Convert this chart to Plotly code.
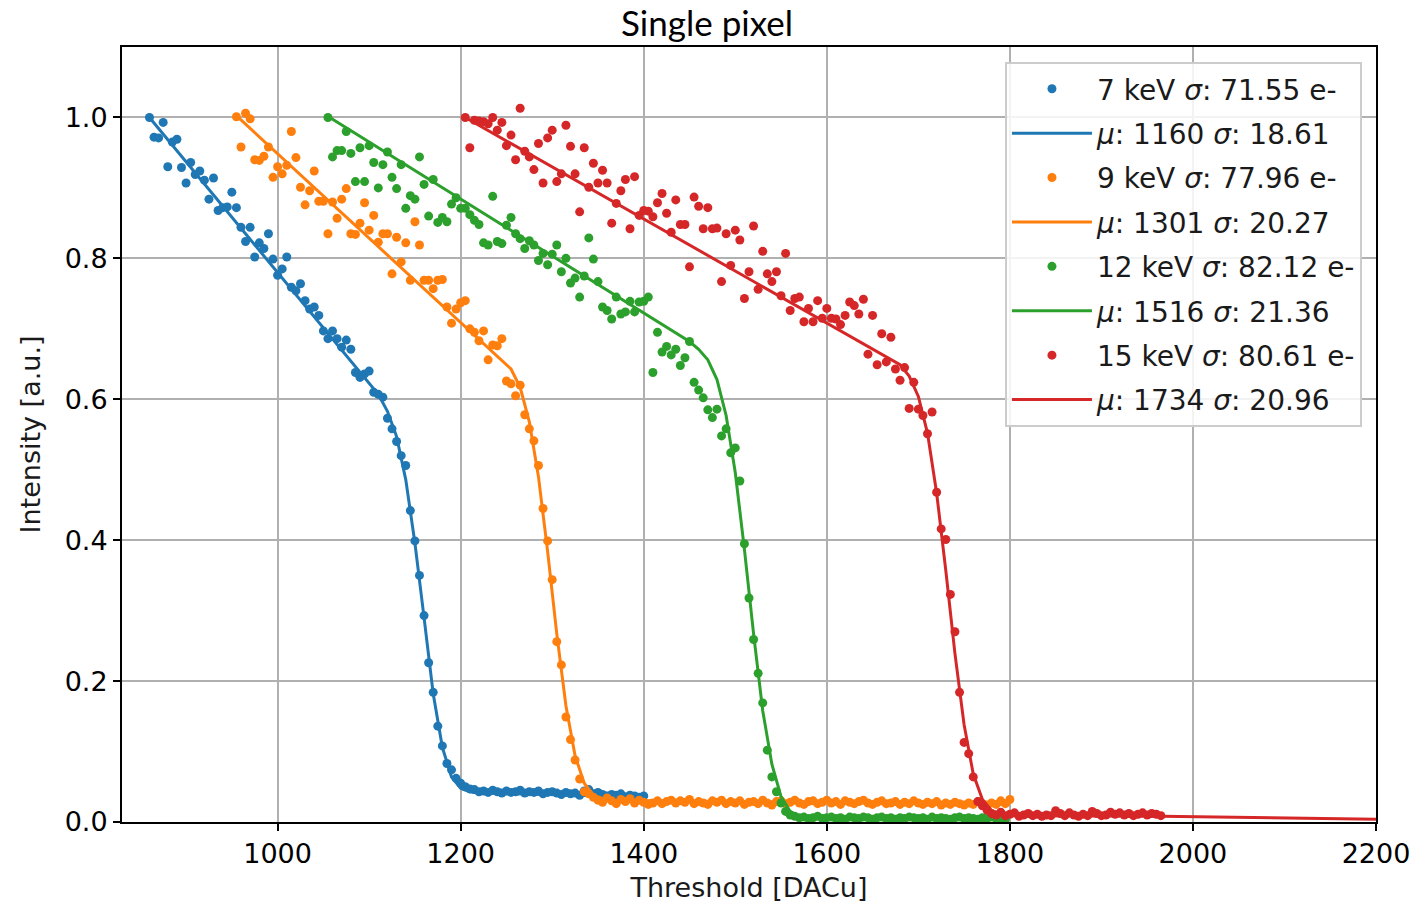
import plotly.graph_objects as go

# ---------------- data ----------------
blue_x = list(range(860, 1405, 5))
blue_y = [1.000, 0.972, 0.971, 0.993, 0.930, 0.965, 0.969, 0.929, 0.907, 0.936,
          0.919, 0.924, 0.911, 0.884, 0.914, 0.868, 0.872, 0.873, 0.894, 0.872,
          0.844, 0.824, 0.844, 0.802, 0.822, 0.814, 0.835, 0.799, 0.776, 0.785,
          0.802, 0.759, 0.754, 0.764, 0.740, 0.728, 0.731, 0.719, 0.697, 0.686,
          0.697, 0.686, 0.674, 0.684, 0.671, 0.638, 0.631, 0.636, 0.640, 0.610,
          0.607, 0.603, 0.573, 0.558, 0.540, 0.520, 0.506, 0.442, 0.399, 0.350,
          0.293, 0.226, 0.184, 0.136, 0.108, 0.083, 0.074, 0.062, 0.055, 0.050,
          0.047, 0.046, 0.043, 0.044, 0.042, 0.045, 0.043, 0.041, 0.044, 0.042,
          0.043, 0.045, 0.041, 0.043, 0.042, 0.044, 0.040, 0.042, 0.043, 0.041,
          0.039, 0.042, 0.040, 0.041, 0.038, 0.044, 0.046, 0.040, 0.042, 0.039,
          0.037, 0.039, 0.038, 0.040, 0.036, 0.038, 0.037, 0.035, 0.037]
blue_fit_x = [860, 1110, 1120, 1130, 1140, 1150, 1160, 1170, 1180, 1190, 1200, 1210, 1220, 1300, 1400]
blue_fit_y = [1.0, 0.607, 0.583, 0.547, 0.486, 0.396, 0.290, 0.182, 0.106, 0.064, 0.048, 0.043, 0.041, 0.039, 0.035]

orange_x = list(range(955, 1805, 5))
orange_y = [1.001, 0.958, 1.006, 0.998, 0.940, 0.939, 0.945, 0.958, 0.915, 0.930,
            0.920, 0.932, 0.980, 0.943, 0.901, 0.876, 0.896, 0.924, 0.881, 0.881,
            0.835, 0.880, 0.857, 0.884, 0.899, 0.835, 0.834, 0.850, 0.879, 0.840,
            0.861, 0.823, 0.835, 0.835, 0.778, 0.830, 0.795, 0.822, 0.769, 0.852,
            0.819, 0.769, 0.769, 0.757, 0.769, 0.770, 0.731, 0.708, 0.728, 0.737,
            0.740, 0.700, 0.695, 0.683, 0.697, 0.656, 0.677, 0.676, 0.686, 0.626,
            0.622, 0.605, 0.620, 0.578, 0.558, 0.541, 0.506, 0.445, 0.399, 0.344,
            0.256, 0.223, 0.149, 0.117, 0.088, 0.061, 0.043, 0.040, 0.035, 0.031,
            0.028, 0.034, 0.030, 0.026, 0.032, 0.029, 0.033, 0.027, 0.031, 0.028,
            0.025, 0.027, 0.030, 0.026, 0.029, 0.031, 0.027, 0.030, 0.028, 0.032,
            0.026, 0.029, 0.027, 0.025, 0.030, 0.028, 0.031, 0.026, 0.029, 0.027,
            0.030, 0.025, 0.028, 0.029, 0.026, 0.031, 0.027, 0.024, 0.029, 0.030,
            0.026, 0.028, 0.031, 0.027, 0.025, 0.029, 0.030, 0.026, 0.028, 0.031,
            0.027, 0.029, 0.025, 0.030, 0.028, 0.026, 0.029, 0.031, 0.027, 0.025,
            0.028, 0.030, 0.026, 0.027, 0.029, 0.025, 0.028, 0.026, 0.030, 0.027,
            0.025, 0.028, 0.026, 0.029, 0.024, 0.027, 0.025, 0.028, 0.026, 0.024,
            0.027, 0.025, 0.029, 0.026, 0.024, 0.027, 0.025, 0.030, 0.026, 0.032]
orange_fit_x = [957, 1255, 1265, 1275, 1285, 1295, 1305, 1315, 1325, 1335, 1345, 1360, 1800]
orange_fit_y = [1.0, 0.643, 0.617, 0.568, 0.490, 0.384, 0.267, 0.165, 0.094, 0.055, 0.038, 0.031, 0.025]

green_x = list(range(1055, 1800, 5))
green_y = [1.000, 0.944, 0.953, 0.953, 0.980, 0.949, 0.909, 0.957, 0.909, 0.960,
           0.936, 0.900, 0.933, 0.951, 0.915, 0.899, 0.933, 0.871, 0.889, 0.884,
           0.944, 0.905, 0.860, 0.912, 0.851, 0.858, 0.852, 0.877, 0.886, 0.871,
           0.871, 0.862, 0.854, 0.848, 0.822, 0.819, 0.888, 0.824, 0.821, 0.847,
           0.858, 0.835, 0.828, 0.814, 0.825, 0.819, 0.797, 0.807, 0.791, 0.806,
           0.819, 0.781, 0.800, 0.765, 0.772, 0.745, 0.775, 0.829, 0.799, 0.767,
           0.731, 0.726, 0.714, 0.745, 0.721, 0.724, 0.739, 0.724, 0.738, 0.739,
           0.745, 0.638, 0.695, 0.667, 0.675, 0.663, 0.671, 0.648, 0.659, 0.682,
           0.624, 0.613, 0.602, 0.585, 0.574, 0.586, 0.548, 0.558, 0.524, 0.531,
           0.484, 0.395, 0.318, 0.259, 0.211, 0.169, 0.102, 0.064, 0.043, 0.027,
           0.015, 0.010, 0.008, 0.006, 0.007, 0.005, 0.006, 0.008, 0.005, 0.006,
           0.007, 0.005, 0.006, 0.004, 0.007, 0.006, 0.005, 0.007, 0.006, 0.004,
           0.006, 0.007, 0.005, 0.006, 0.004, 0.006, 0.005, 0.007, 0.006, 0.005,
           0.006, 0.004, 0.007, 0.005, 0.006, 0.005, 0.004, 0.006, 0.007, 0.005,
           0.006, 0.005, 0.004, 0.006, 0.005, 0.007, 0.005, 0.006, 0.004]
green_fit_x = [1057, 1450, 1460, 1470, 1480, 1490, 1500, 1510, 1520, 1530, 1540, 1550, 1560, 1570, 1580, 1795]
green_fit_y = [1.0, 0.682, 0.671, 0.656, 0.628, 0.577, 0.496, 0.387, 0.267, 0.158, 0.082, 0.036, 0.015, 0.008, 0.006, 0.005]

red_x = list(range(1205, 1970, 5))
red_y = [1.000, 0.957, 0.996, 0.995, 0.994, 0.991, 1.000, 0.982, 0.993, 0.960,
         0.975, 0.940, 1.013, 0.952, 0.944, 0.926, 0.963, 0.907, 0.971, 0.982,
         0.909, 0.920, 0.989, 0.959, 0.920, 0.866, 0.957, 0.901, 0.935, 0.907,
         0.925, 0.907, 0.850, 0.878, 0.896, 0.912, 0.842, 0.916, 0.861, 0.868,
         0.867, 0.859, 0.879, 0.892, 0.864, 0.837, 0.883, 0.848, 0.848, 0.788,
         0.887, 0.874, 0.842, 0.872, 0.842, 0.843, 0.767, 0.835, 0.790, 0.840,
         0.826, 0.743, 0.781, 0.846, 0.756, 0.810, 0.778, 0.767, 0.781, 0.747,
         0.807, 0.726, 0.743, 0.745, 0.710, 0.729, 0.710, 0.740, 0.715, 0.729,
         0.715, 0.714, 0.706, 0.719, 0.738, 0.733, 0.721, 0.742, 0.664, 0.719,
         0.649, 0.693, 0.653, 0.688, 0.643, 0.627, 0.645, 0.587, 0.624, 0.586,
         0.577, 0.551, 0.582, 0.468, 0.416, 0.401, 0.323, 0.270, 0.184, 0.113,
         0.097, 0.064, 0.029, 0.023, 0.017, 0.012, 0.010, 0.014, 0.009, 0.011,
         0.013, 0.008, 0.010, 0.012, 0.009, 0.011, 0.008, 0.010, 0.009, 0.016,
         0.012, 0.009, 0.013, 0.010, 0.008, 0.011, 0.009, 0.015, 0.012, 0.009,
         0.010, 0.014, 0.011, 0.013, 0.010, 0.012, 0.009, 0.011, 0.013, 0.010,
         0.012, 0.011, 0.009]
red_fit_x = [1205, 1680, 1690, 1700, 1710, 1720, 1730, 1740, 1750, 1760, 1770, 1780, 1790, 1800, 1965, 2200]
red_fit_y = [1.0, 0.649, 0.633, 0.604, 0.552, 0.467, 0.357, 0.239, 0.138, 0.068, 0.032, 0.016, 0.011, 0.009, 0.008, 0.004]

data_labels = ["7 keV <i>σ</i>: 71.55 e-", "9 keV <i>σ</i>: 77.96 e-",
               "12 keV <i>σ</i>: 82.12 e-", "15 keV <i>σ</i>: 80.61 e-"]
fit_labels = ["<i>μ</i>: 1160 <i>σ</i>: 18.61", "<i>μ</i>: 1301 <i>σ</i>: 20.27",
              "<i>μ</i>: 1516 <i>σ</i>: 21.36", "<i>μ</i>: 1734 <i>σ</i>: 20.96"]
colors = ["#1f77b4", "#ff7f0e", "#2ca02c", "#d62728"]

x_ticks = [1000, 1200, 1400, 1600, 1800, 2000, 2200]
y_ticks = [0.0, 0.2, 0.4, 0.6, 0.8, 1.0]

series = [
    (blue_x, blue_y, blue_fit_x, blue_fit_y),
    (orange_x, orange_y, orange_fit_x, orange_fit_y),
    (green_x, green_y, green_fit_x, green_fit_y),
    (red_x, red_y, red_fit_x, red_fit_y),
]

FONT = "DejaVu Sans"
FS = 27

fig = go.Figure()
for i, (dx, dy, fx, fy) in enumerate(series):
    fig.add_trace(go.Scatter(x=dx, y=dy, mode="markers", name=data_labels[i],
                             marker=dict(color=colors[i], size=9, line=dict(width=0)),
                             legendgroup=f"d{i}"))
    fig.add_trace(go.Scatter(x=fx, y=fy, mode="lines", name=fit_labels[i],
                             line=dict(color=colors[i], width=3),
                             legendgroup=f"f{i}"))

fig.update_layout(
    width=1414, height=906,
    margin=dict(l=122, r=38, t=47, b=84, autoexpand=False),
    paper_bgcolor="white", plot_bgcolor="white",
    font=dict(family=FONT, size=FS, color="black"),
    title=dict(text="Single pixel", x=0.5, xanchor="center", y=1 - 24 / 906,
               yanchor="middle", yref="container",
               font=dict(family="Lato", size=35, color="black")),
    legend=dict(x=0.9888, xanchor="right", y=0.9806, yanchor="top",
                bgcolor="rgba(255,255,255,0.85)", bordercolor="#cccccc", borderwidth=2,
                font=dict(family=FONT, size=28, color="#1a1a1a"),
                tracegroupgap=5, itemwidth=80),
    showlegend=True,
)
fig.update_xaxes(range=[830, 2200], tickvals=x_ticks, ticks="outside", ticklen=7, tickwidth=2,
                 tickcolor="black", showline=True, linecolor="black", linewidth=2, mirror=True,
                 showgrid=True, gridcolor="#b0b0b0", gridwidth=2, zeroline=False, automargin=False,
                 title=dict(text="Threshold [DACu]", standoff=10,
                            font=dict(family=FONT, size=FS, color="#1a1a1a")),
                 tickfont=dict(family=FONT, size=FS, color="black"))
fig.update_yaxes(range=[0, 1.1], tickvals=y_ticks, tickformat=".1f", ticks="outside", ticklen=7,
                 tickwidth=2, tickcolor="black", showline=True, linecolor="black", linewidth=2,
                 mirror=True, showgrid=True, gridcolor="#b0b0b0", gridwidth=2, zeroline=False,
                 automargin=False,
                 title=dict(text="Intensity [a.u.]", standoff=16,
                            font=dict(family=FONT, size=FS, color="#1a1a1a")),
                 tickfont=dict(family=FONT, size=FS, color="black"))

fig.write_html("out.html")
